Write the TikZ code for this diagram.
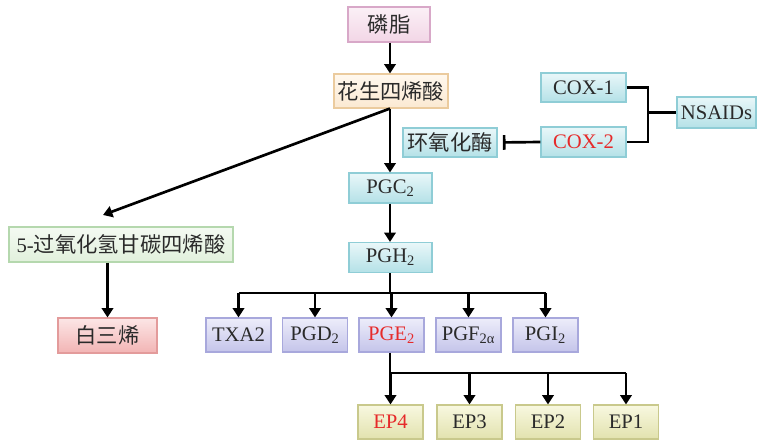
\documentclass[tikz,border=0pt]{standalone}
\usepackage{fontspec}
\setmainfont{Liberation Serif}
\newfontfamily\cjk[Scale=1.03]{Noto Sans CJK SC}
\usepackage{tikz}
\usetikzlibrary{arrows.meta}

\definecolor{txt}{HTML}{2A2A2A}
\definecolor{redtxt}{HTML}{E62A2A}
\definecolor{pinkline}{HTML}{D8A8C8}\definecolor{pinktop}{HTML}{FBF0F6}\definecolor{pinkbot}{HTML}{F2D6E6}
\definecolor{begline}{HTML}{EBCB9E}\definecolor{begtop}{HTML}{FFF8EE}\definecolor{begbot}{HTML}{FBE9D2}
\definecolor{cyanline}{HTML}{8FCDD6}\definecolor{cyantop}{HTML}{E9F7F9}\definecolor{cyanbot}{HTML}{B4E1E7}
\definecolor{grnline}{HTML}{B5D8AE}\definecolor{grntop}{HTML}{F4FAF2}\definecolor{grnbot}{HTML}{E1F0DC}
\definecolor{redline}{HTML}{E39B9B}\definecolor{redtop}{HTML}{FCE6E6}\definecolor{redbot}{HTML}{F2B4B4}
\definecolor{lavline}{HTML}{A8A8DC}\definecolor{lavtop}{HTML}{EDEDFA}\definecolor{lavbot}{HTML}{C4C4EA}
\definecolor{ylwline}{HTML}{C9C98C}\definecolor{ylwtop}{HTML}{F8F8E0}\definecolor{ylwbot}{HTML}{E2E2AE}

\begin{document}
\begin{tikzpicture}[x=0.75pt, y=-0.75pt,
		box/.style = {draw, line width=0.8pt, inner sep=0pt, minimum width=48.75pt, minimum height=25.5pt, text=txt, font=\fontsize{15.5}{17}\selectfont},
		pinkbox/.style = {box, draw=pinkline, top color=pinktop, bottom color=pinkbot},
		begbox/.style = {box, draw=begline, top color=begtop, bottom color=begbot},
		cyanbox/.style = {box, draw=cyanline, top color=cyantop, bottom color=cyanbot},
		grnbox/.style = {box, draw=grnline, top color=grntop, bottom color=grnbot},
		redbox/.style = {box, draw=redline, top color=redtop, bottom color=redbot},
		lavbox/.style = {box, draw=lavline, top color=lavtop, bottom color=lavbot},
		ylwbox/.style = {box, draw=ylwline, top color=ylwtop, bottom color=ylwbot},
		link/.style = {line width=2pt, black},
		arr/.style = {link, -{Triangle[length=7pt, width=8.5pt]}}]
	\useasboundingbox (0,0) rectangle (757,441);

	% top of the pathway
	\node [pinkbox, minimum width=61.5pt, minimum height=26.25pt] (lin) at (389,24.5) {\cjk 磷脂};
	\node [begbox, minimum width=85.5pt] (hua) at (391,91) {\cjk 花生四烯酸};
	\node [cyanbox, minimum width=63.75pt, minimum height=21.75pt] (cox1) at (583.5,87.5) {COX-1};
	\node [cyanbox, minimum width=63.75pt, minimum height=22.5pt, text=redtxt] (cox2) at (583.5,142) {COX-2};
	\node [cyanbox, minimum width=59.25pt, minimum height=23.25pt] (nsaid) at (716.5,112.5) {NSAIDs};
	\node [cyanbox, minimum width=70.5pt, minimum height=21.75pt] (mei) at (450,142.5) {\cjk 环氧化酶};
	\node [cyanbox, minimum width=62.25pt, minimum height=22.5pt] (pgc) at (390.5,188) {PGC\textsubscript{2}};
	\node [cyanbox, minimum width=62.25pt, minimum height=22.5pt] (pgh) at (390.5,257.5) {PGH\textsubscript{2}};

	% leukotriene side
	\node [grnbox, minimum width=168pt, minimum height=26.25pt] (hpete) at (121,244.5) {5-\cjk 过氧化氢甘碳四烯酸};
	\node [redbox, minimum width=74.25pt, minimum height=26.25pt] (lt) at (107.5,335.5) {\cjk 白三烯};

	% prostanoids
	\node [lavbox] (txa) at (238.5,335) {TXA2};
	\node [lavbox] (pgd) at (315,335) {PGD\textsubscript{2}};
	\node [lavbox, text=redtxt] (pge) at (391.5,335) {PGE\textsubscript{2}};
	\node [lavbox] (pgf) at (468.5,335) {PGF\textsubscript{2α}};
	\node [lavbox] (pgi) at (545.5,335) {PGI\textsubscript{2}};

	% receptors
	\node [ylwbox, text=redtxt] (ep4) at (390.5,422) {EP4};
	\node [ylwbox] (ep3) at (469.5,422) {EP3};
	\node [ylwbox] (ep2) at (548,422) {EP2};
	\node [ylwbox] (ep1) at (626,422) {EP1};

	\coordinate (hpin) at (103,215);
	\coordinate (brk) at (648,112.5);
	\coordinate (pgsplit) at (390,293);
	\coordinate (epsplit) at (390,373);

	\draw [arr] (lin.south -| 390,0) -- (hua.north -| 390,0);
	\draw [arr] (hua.south -| 390,0) -- (pgc.north -| 390,0);
	\draw [arr] (hua.south -| 390,0) -- (hpin);
	\draw [arr] (pgc.south -| 390,0) -- (pgh.north -| 390,0);
	\draw [arr] (lt.north |- hpete.south) -- (lt.north);

	\draw [link] (cox1.east) -| (brk) |- (cox2.east);
	\draw [link] (brk) -- (nsaid.west);
	\draw [link, -{Bar[width=11pt, line width=2pt]}, shorten >=4pt] (cox2.west) -- (mei.east);

	\draw [link] (pgh.south -| pgsplit) -- (pgsplit);
	\draw [link] (txa |- pgsplit) -- (pgi |- pgsplit);
	\foreach \n in {txa,pgd,pge,pgf,pgi}
		\draw [arr] (\n |- pgsplit) -- (\n.north);

	\draw [link] (pge.south -| epsplit) -- (epsplit);
	\draw [link] (ep4 |- epsplit) -- (ep1 |- epsplit);
	\foreach \n in {ep4,ep3,ep2,ep1}
		\draw [arr] (\n |- epsplit) -- (\n.north);
\end{tikzpicture}
\end{document}
